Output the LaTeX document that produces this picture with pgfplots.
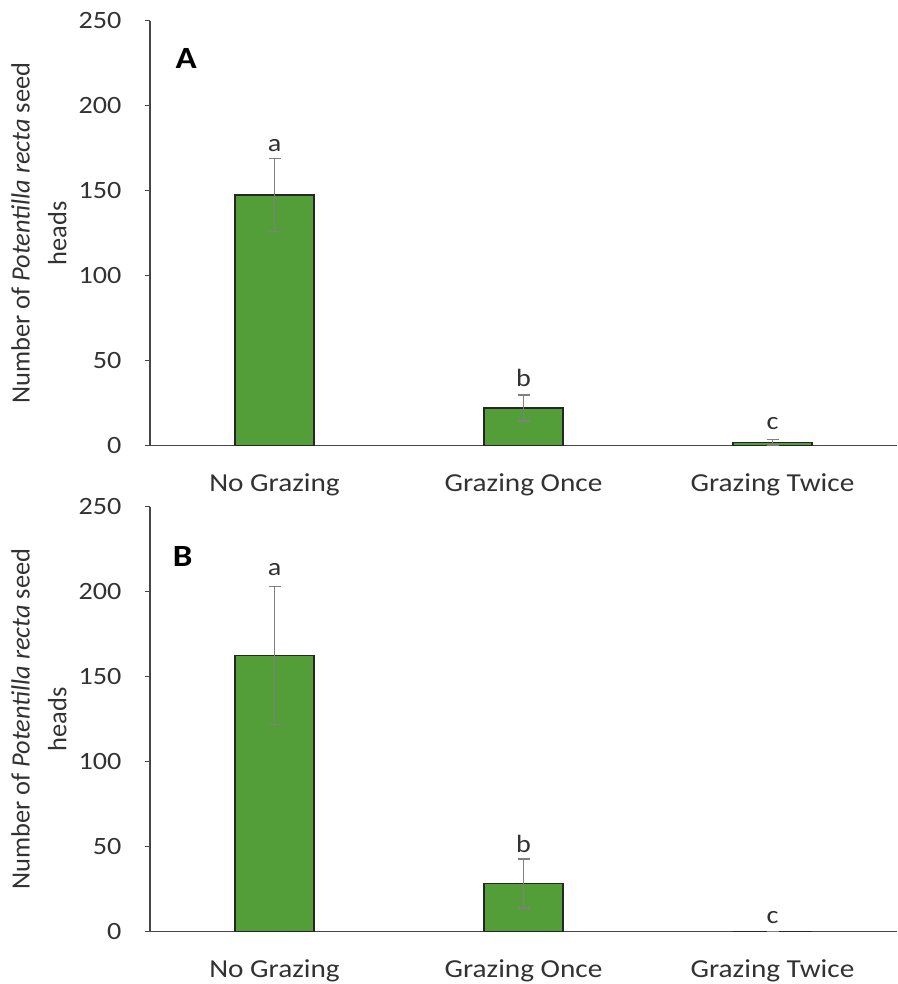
\documentclass[border=0pt]{standalone}
\usepackage{fontspec}
\setmainfont{Carlito}[FakeStretch=1.13]
\newfontfamily\labelfont{Carlito}
\usepackage{pgfplots}
\pgfplotsset{compat=1.18}
\definecolor{bargreen}{RGB}{84,158,57}
\definecolor{axgray}{RGB}{70,70,70}
\definecolor{txt}{RGB}{50,50,50}
\definecolor{errgray}{RGB}{128,128,128}

\pgfplotstableread{
x y e
0 147.5 21.3
1 22.2 7.6
2 2.1 1.7
}\dataA
\pgfplotstableread{
x y e
0 162.6 40.6
1 28.3 14.4
2 0 0
}\dataB

\pgfplotsset{panel/.style={
  scale only axis, width=747bp, height=425bp,
  xmin=-0.5, xmax=2.5, ymin=0, ymax=250,
  axis x line=bottom, axis y line=left,
  axis line style={-, draw=axgray, line width=1.3bp},
  xtick={0,1,2}, xticklabels={No Grazing, Grazing Once, Grazing Twice},
  x tick style={draw=none},
  ytick={0,50,...,250},
  y tick style={draw=axgray, line width=1.2bp},
  tick align=outside, major tick length=5bp,
  x tick label style={font=\fontsize{26}{30}\selectfont, text=txt, anchor=base, yshift=-41bp},
  y tick label style={font=\fontsize{25}{30}\selectfont, text=txt, anchor=east, xshift=-20bp},
  /pgf/number format/assume math mode=true,
  ylabel={Number of \textit{Potentilla recta} seed\\heads},
  ylabel style={align=center, font=\labelfont\fontsize{26.5}{37}\selectfont, text=txt,
    at={(axis description cs:-0.1486,0.5)}, anchor=center},
  ybar, bar width=79bp, bar shift=0pt,
  clip=false,
}}
\pgfplotsset{bars/.style={fill=bargreen, draw=black!85, line width=1.2bp,
  error bars/.cd, y dir=both, y explicit,
  error bar style={errgray, line width=1.3bp},
  error mark options={rotate=90, mark size=6bp, errgray, line width=1.3bp}}}

\begin{document}
\begin{tikzpicture}
\useasboundingbox (0,0) rectangle (898bp,-984bp);
\begin{axis}[panel, at={(150bp,-445.7bp)}, anchor=south west]
\addplot[bars] table[x=x, y=y, y error=e] {\dataA};
\node[font=\fontsize{25}{30}\selectfont, text=txt] at (axis cs:0,176.5) {a};
\node[font=\fontsize{25}{30}\selectfont, text=txt] at (axis cs:1,40) {b};
\node[font=\fontsize{25}{30}\selectfont, text=txt] at (axis cs:2,13.3) {c};
\node[font=\bfseries\fontsize{31}{36}\selectfont, text=black] at (axis cs:-0.355,228) {A};
\end{axis}
\begin{axis}[panel, at={(150bp,-931.7bp)}, anchor=south west]
\addplot[bars] table[x=x, y=y, y error=e] {\dataB};
\node[font=\fontsize{25}{30}\selectfont, text=txt] at (axis cs:0,213) {a};
\node[font=\fontsize{25}{30}\selectfont, text=txt] at (axis cs:1,51.6) {b};
\node[font=\fontsize{25}{30}\selectfont, text=txt] at (axis cs:2,8.1) {c};
\node[font=\bfseries\fontsize{31}{36}\selectfont, text=black] at (axis cs:-0.369,221) {B};
\end{axis}
\end{tikzpicture}
\end{document}
